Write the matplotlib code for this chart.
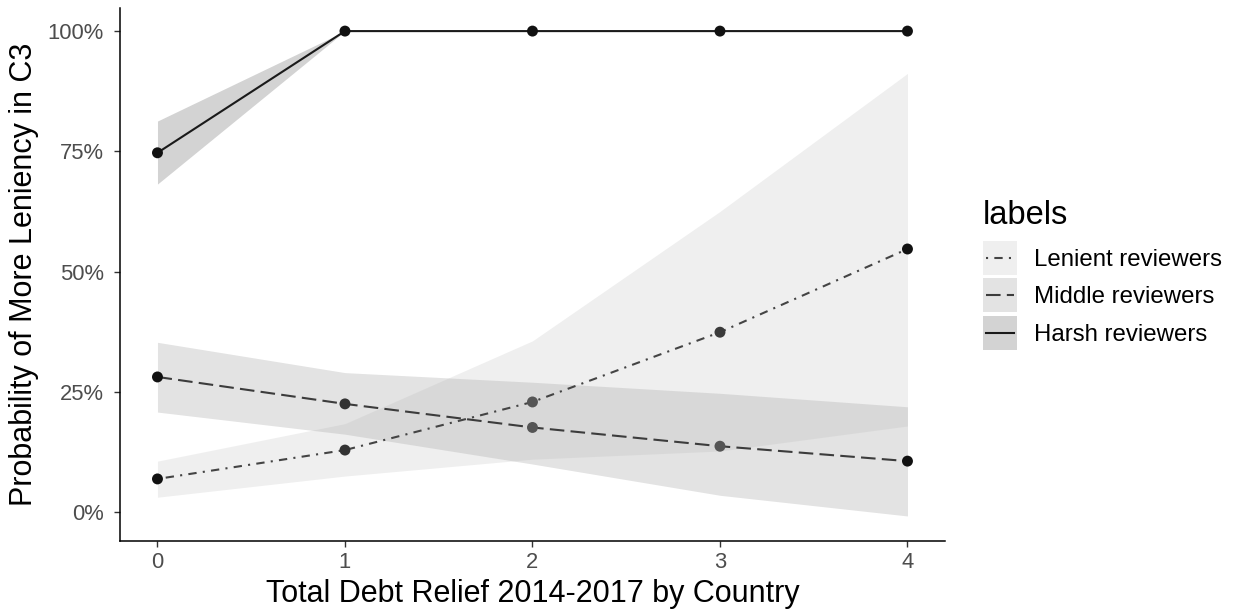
import matplotlib
matplotlib.use("Agg")
import matplotlib.pyplot as plt
from matplotlib.patches import Rectangle
from matplotlib.lines import Line2D
from matplotlib.legend_handler import HandlerBase
from matplotlib.ticker import FuncFormatter

plt.rcParams['font.family'] = ['Liberation Sans', 'DejaVu Sans']

# Predicted probabilities (%) with confidence bands, by reviewer group
debt_relief = [0, 1, 2, 3, 4]

lenient = [6.9, 12.9, 22.9, 37.4, 54.7]
lenient_lo = [3.1, 7.5, 11.0, 12.7, 17.9]
lenient_hi = [10.6, 18.4, 35.6, 62.5, 91.2]

middle = [28.1, 22.5, 17.6, 13.7, 10.6]
middle_lo = [20.8, 16.2, 10.0, 3.5, -0.8]
middle_hi = [35.3, 29.0, 27.0, 24.7, 21.9]

harsh = [74.7, 100, 100, 100, 100]
harsh_lo = [68.2, 100, 100, 100, 100]
harsh_hi = [81.3, 100, 100, 100, 100]

group_labels = ["Lenient reviewers", "Middle reviewers", "Harsh reviewers"]
y_ticks = [0, 25, 50, 75, 100]
x_ticks = [0, 1, 2, 3, 4]

ALPHA = 0.2
FILL = {"lenient": (0.69, 0.69, 0.69), "middle": (0.45, 0.45, 0.45), "harsh": (0.137, 0.137, 0.137)}
LINESTYLE = {"lenient": (0, (1, 3, 4, 3)), "middle": (0, (7, 3)), "harsh": "-"}
LINECOLOR = {"lenient": "#444444", "middle": "#3c3c3c", "harsh": "#1a1a1a"}
POINTCOLOR = {
    "lenient": ["#111111", "#333333", "#555555", "#3a3a3a", "#111111"],
    "middle": ["#111111", "#333333", "#555555", "#555555", "#111111"],
    "harsh": ["#111111"] * 5,
}

fig = plt.figure(figsize=(12.33, 6.11), dpi=100)
ax = fig.add_axes([0.0973, 0.1146, 0.6691, 0.8723])

series = [
    ("harsh", harsh, harsh_lo, harsh_hi),
    ("middle", middle, middle_lo, middle_hi),
    ("lenient", lenient, lenient_lo, lenient_hi),
]

for key, vals, lo, hi in series:
    ax.fill_between(debt_relief, lo, hi, color=FILL[key], alpha=ALPHA, linewidth=0, zorder=1)
for key, vals, lo, hi in series:
    ax.plot(debt_relief, vals, color=LINECOLOR[key], linestyle=LINESTYLE[key],
            linewidth=1.5, zorder=3)
    ax.scatter(debt_relief, vals, s=62, c=POINTCOLOR[key], linewidths=0, zorder=4)

ax.set_xlim(-0.2, 4.2)
ax.set_ylim(-6.0, 104.8)
ax.set_xticks(x_ticks)
ax.set_yticks(y_ticks)
ax.yaxis.set_major_formatter(FuncFormatter(lambda v, p: f"{int(v)}%"))

for side in ["top", "right"]:
    ax.spines[side].set_visible(False)
for side in ["left", "bottom"]:
    ax.spines[side].set_linewidth(1.1)
    ax.spines[side].set_color("black")

ax.tick_params(axis="both", length=4, width=1.0, color="#333333",
               labelcolor="#4d4d4d", labelsize=15.8)
ax.tick_params(axis="y", pad=7.5)
ax.tick_params(axis="x", pad=4)

ax.set_xlabel("Total Debt Relief 2014-2017 by Country", fontsize=22, color="black", labelpad=4)
ax.set_ylabel("Probability of More Leniency in C3", fontsize=22, color="black", labelpad=6)


class LegendKey:
    def __init__(self, key):
        self.key = key


class LegendKeyHandler(HandlerBase):
    """Grey fill square with the group's line centred across it."""

    def create_artists(self, legend, orig_handle, xdescent, ydescent,
                       width, height, fontsize, trans):
        k = orig_handle.key
        box = Rectangle((-xdescent, -ydescent), width, height,
                        facecolor=FILL[k], alpha=ALPHA, edgecolor="none",
                        transform=trans)
        inset = 0.08 * width
        yc = -ydescent + height / 2
        line = Line2D([-xdescent + inset, -xdescent + width - inset], [yc, yc],
                      color=LINECOLOR[k], linestyle=LINESTYLE[k], linewidth=1.5,
                      transform=trans)
        return [box, line]


handles = [LegendKey(k) for k in ["lenient", "middle", "harsh"]]
leg = fig.legend(handles, group_labels, title="labels", loc="upper left",
                 handler_map={LegendKey: LegendKeyHandler()},
                 bbox_to_anchor=(0.7895, 0.688), frameon=False, fontsize=17.3,
                 title_fontsize=23.5, handlelength=1.42, handleheight=1.8,
                 labelspacing=0.146, handletextpad=0.7, borderaxespad=0)
leg._legend_box.align = "left"
leg._legend_box.sep = 7.0

fig.savefig("out.png", dpi=100)
